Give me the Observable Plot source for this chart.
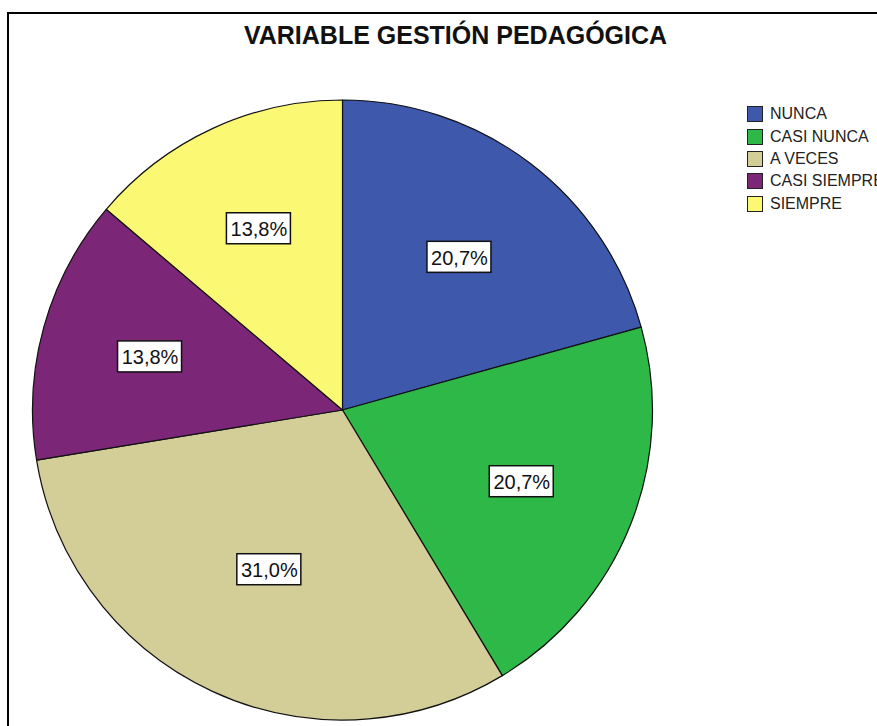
<!DOCTYPE html>
<html>
<head>
<meta charset="utf-8">
<script src="https://cdn.jsdelivr.net/npm/d3@7"></script>
<script src="https://cdn.jsdelivr.net/npm/@observablehq/plot@0.6"></script>
<style>
  html, body { margin: 0; padding: 0; background: #fff; }
  #wrap { position: relative; width: 877px; height: 726px; overflow: hidden; font-family: Arial, "Liberation Sans", sans-serif; }
  #frame { position: absolute; left: 7px; top: 12px; width: 900px; height: 750px; border-left: 2px solid #000; border-top: 2px solid #000; }
  #title { position: absolute; left: 0; width: 911px; top: 21px; text-align: center; font-weight: bold; font-size: 25px; color: #111; }
  #chart { position: absolute; left: 0; top: 0; }
  #legend { position: absolute; left: 747px; top: 103px; font-size: 16px; color: #222; }
  .row { display: flex; align-items: center; height: 22.4px; white-space: nowrap; }
  .sw { width: 14px; height: 14px; border: 1.5px solid #222; margin-right: 7px; }
</style>
</head>
<body>
<div id="wrap">
  <div id="frame"></div>
  <div id="chart"></div>
  <div id="title">VARIABLE GESTIÓN PEDAGÓGICA</div>
  <div id="legend"></div>
</div>
<script>
const categories = ["NUNCA", "CASI NUNCA", "A VECES", "CASI SIEMPRE", "SIEMPRE"];
const counts = [6, 6, 9, 4, 4];
const colors = ["#3e58ac", "#2eb848", "#d3ce97", "#7b2677", "#fbf873"];

const total = d3.sum(counts);
const fmt = d3.formatLocale({decimal: ",", thousands: ".", grouping: [3], currency: ["", ""]}).format(".1%");
const pie = d3.pie().sort(null).value(d => d.value).startAngle(0).endAngle(2 * Math.PI);
const table = categories.map((c, i) => ({category: c, value: counts[i], color: colors[i]}));
const arcs = pie(table).map(a => {
  const mid = (a.startAngle + a.endAngle) / 2;
  const h = (a.endAngle - a.startAngle) / 2;
  const rc = 2 * Math.sin(h) / (3 * h); // sector centroid distance (unit radius)
  return {...a, mid, lx: rc * Math.sin(mid), ly: rc * Math.cos(mid), label: fmt(a.data.value / total)};
});

const cx = 342.5, cy = 410, R = 310;

const svgNS = "http://www.w3.org/2000/svg";
const pieMark = Plot.dot(arcs, {
  x: () => 0, y: () => 0,
  render(index, scales, values, dims, context) {
    const x0 = scales.x(0), y0 = scales.y(0), r = scales.x(1) - scales.x(0);
    const g = d3.select(context.document.createElementNS(svgNS, "g"));
    const arcGen = d3.arc().innerRadius(0).outerRadius(r);
    g.selectAll("path").data(Array.from(index, i => arcs[i])).join("path")
      .attr("transform", `translate(${x0},${y0})`)
      .attr("d", arcGen)
      .attr("fill", d => d.data.color)
      .attr("stroke", "#111")
      .attr("stroke-width", 1.2)
      .attr("stroke-linejoin", "round");
    return g.node();
  }
});

const boxMark = Plot.dot(arcs, {
  x: "lx", y: "ly",
  render(index, scales, values, dims, context) {
    const g = d3.select(context.document.createElementNS(svgNS, "g"));
    g.selectAll("rect").data(Array.from(index)).join("rect")
      .attr("x", i => values.x[i] - 32)
      .attr("y", i => values.y[i] - 15.5)
      .attr("width", 64).attr("height", 31)
      .attr("fill", "#fff").attr("stroke", "#111").attr("stroke-width", 1.5);
    return g.node();
  }
});

const chart = Plot.plot({
  width: 877,
  height: 726,
  margin: 0,
  x: {domain: [-1, 1], range: [cx - R, cx + R], axis: null},
  y: {domain: [-1, 1], range: [cy + R, cy - R], axis: null},
  style: {background: "transparent", overflow: "visible"},
  marks: [
    pieMark,
    boxMark,
    Plot.text(arcs, {x: "lx", y: "ly", text: "label", fontSize: 20, fill: "#111", fontFamily: "Arial, 'Liberation Sans', sans-serif", dy: 1})
  ]
});
document.getElementById("chart").appendChild(chart);

const legend = document.getElementById("legend");
categories.forEach((c, i) => {
  const row = document.createElement("div");
  row.className = "row";
  const sw = document.createElement("div");
  sw.className = "sw";
  sw.style.background = colors[i];
  const t = document.createElement("span");
  t.textContent = c;
  row.appendChild(sw); row.appendChild(t);
  legend.appendChild(row);
});
</script>
</body>
</html>
